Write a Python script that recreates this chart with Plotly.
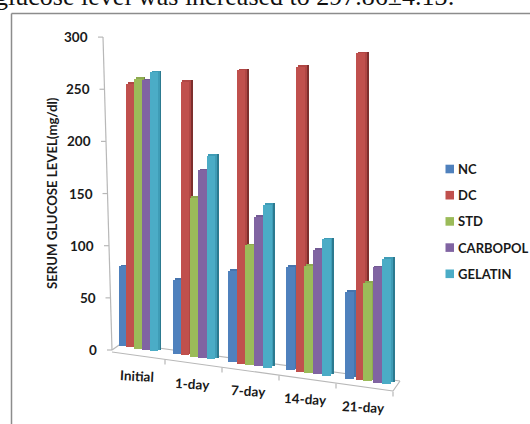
import plotly.graph_objects as go

categories = ["Initial", "1-day", "7-day", "14-day", "21-day"]
NC = [78, 72, 87, 97, 80]
DC = [254, 260, 275, 282, 298]
STD = [260, 152, 113, 100, 91]
CARBOPOL = [260, 179, 141, 116, 106]
GELATIN = [269, 194, 153, 127, 115]
series_names = ["NC", "DC", "STD", "CARBOPOL", "GELATIN"]
series_values = [NC, DC, STD, CARBOPOL, GELATIN]
y_ticks = [0, 50, 100, 150, 200, 250, 300]

front_colors = ["#4F81BD", "#C0504D", "#9BBB59", "#8064A2", "#4BACC6"]
side_colors = ["#37608F", "#7E2F2D", "#708A3E", "#584373", "#2C7A90"]
top_colors = ["#4674AD", "#B04644", "#8DAA50", "#735A94", "#3F9CB6"]

W, H = 530, 424
PX_PER_UNIT = 1.043
ZERO_PX = 350.0
CAT_PITCH = 56.25
FIRST_PX = 118.0

# perspective layout of the five clusters (pixels)
cluster_left = [120, 173, 228, 286, 344]
cluster_bar = [8.0, 8.6, 8.7, 8.8, 9.2]
cluster_tilt = [-5, -2.5, 0, 3, 5.5]


def dy(px):
    return (ZERO_PX - px) / PX_PER_UNIT


def dx(px):
    return (px - FIRST_PX) / CAT_PITCH


def floor_px(xp):
    return 346 + 0.145 * (xp - FIRST_PX)


fig = go.Figure()
for j, name in enumerate(series_names):
    xc, base, ht, wd = [], [], [], []
    for i, v in enumerate(series_values[j]):
        bar = cluster_bar[i]
        tilt_shift = cluster_tilt[i] * v / 300 / 2
        xc.append(cluster_left[i] + bar * j + bar / 2 + tilt_shift)
        base.append(dy(floor_px(FIRST_PX + CAT_PITCH * i + 9 * j)))
        ht.append(v * (1 + 0.014 * i) - 1.5)
        wd.append(bar / CAT_PITCH)
    common = dict(hoverinfo="skip", marker_line_width=0, showlegend=False)
    fig.add_trace(go.Bar(x=[dx(p + 3.5) for p in xc], y=ht, base=[b + 1.6 for b in base],
                         width=wd, marker_color=side_colors[j], **common))
    fig.add_trace(go.Bar(x=[dx(p + 1.8) for p in xc], y=ht, base=[b + 1.6 for b in base],
                         width=wd, marker_color=top_colors[j], **common))
    fig.add_trace(go.Bar(x=[dx(p) for p in xc], y=ht, base=base, width=wd, name=name,
                         marker_color=front_colors[j], marker_line_width=0, showlegend=False))


def seg(x0, y0, x1, y1, color="#B8B8B8", width=1.2):
    fig.add_shape(type="line", xref="x", yref="y", layer="below",
                  x0=dx(x0), y0=dy(y0), x1=dx(x1), y1=dy(y1),
                  line=dict(color=color, width=width))


# sloped wall axis and floor outline
seg(103, 37, 112, 350)
seg(112, 350, 122, 343)
seg(122, 343, 400, 381)
seg(400, 381, 393, 391)
seg(112, 352, 393, 391)
for v in y_ticks:
    yp = ZERO_PX - v * PX_PER_UNIT
    xp = 112 - 9 * v / 300
    seg(xp - 5, yp, xp, yp)
    fig.add_annotation(x=dx(xp - 13), y=v, text=f"<b>{v}</b>", showarrow=False, xanchor="right",
                       yanchor="middle", font=dict(family="Lato", size=13.5, color="#1a1a1a"))
for i in range(5):
    xp = 165 + 57 * i
    yp = 359.5 + 8.0 * i
    seg(xp, yp, xp, yp + 5)
label_px = [(137, 376), (192, 384), (248, 391), (305, 399), (363, 407)]
for c, (xp, yp) in zip(categories, label_px):
    fig.add_annotation(x=dx(xp), y=dy(yp), text=f"<b>{c}</b>", showarrow=False, textangle=3,
                       font=dict(family="Lato", size=13.5, color="#1a1a1a"))

# axis title
fig.add_annotation(x=dx(52), y=dy(193), text="<b>SERUM GLUCOSE LEVEL(mg/dl)</b>", textangle=-90,
                   showarrow=False, font=dict(family="Lato", size=13.2, color="#1a1a1a"))

# legend key at the right of the picture
for k, (name, col) in enumerate(zip(series_names, front_colors)):
    yp = 169 + 26.2 * k
    fig.add_shape(type="rect", xref="x", yref="y", x0=dx(445.5), x1=dx(454), y0=dy(yp - 4.3), y1=dy(yp + 4.3),
                  fillcolor=col, line_width=0)
    fig.add_annotation(x=dx(456), y=dy(yp), text=f"<b>{name}</b>", xanchor="left", yanchor="middle",
                       showarrow=False, font=dict(family="Lato", size=13, color="#1a1a1a"))

# running text cut by the page and picture frame
fig.add_annotation(xref="paper", yref="paper", x=457 / W, y=1 - 13 / H, xanchor="right", yanchor="bottom",
                   text="glucose level was increased to 297.86±4.13:", showarrow=False,
                   font=dict(family="Liberation Serif", size=26, color="#111111"))
fig.add_shape(type="line", xref="paper", yref="paper", x0=11.5 / W, x1=1, y0=1 - 13.5 / H, y1=1 - 13.5 / H,
              line=dict(color="#8C8C8C", width=1.5))
fig.add_shape(type="line", xref="paper", yref="paper", x0=11.5 / W, x1=11.5 / W, y0=0, y1=1 - 13.5 / H,
              line=dict(color="#8C8C8C", width=1.5))

fig.update_layout(
    width=W, height=H, margin=dict(l=0, r=0, t=0, b=0, pad=0),
    barmode="overlay", bargap=0, paper_bgcolor="white", plot_bgcolor="white", showlegend=False,
    xaxis=dict(visible=False, range=[dx(0), dx(W)]),
    yaxis=dict(visible=False, range=[dy(H), dy(0)]),
)
fig.write_html("out.html", config={"displayModeBar": False},
               post_script="document.body.style.margin='0';document.body.style.overflow='hidden';")
